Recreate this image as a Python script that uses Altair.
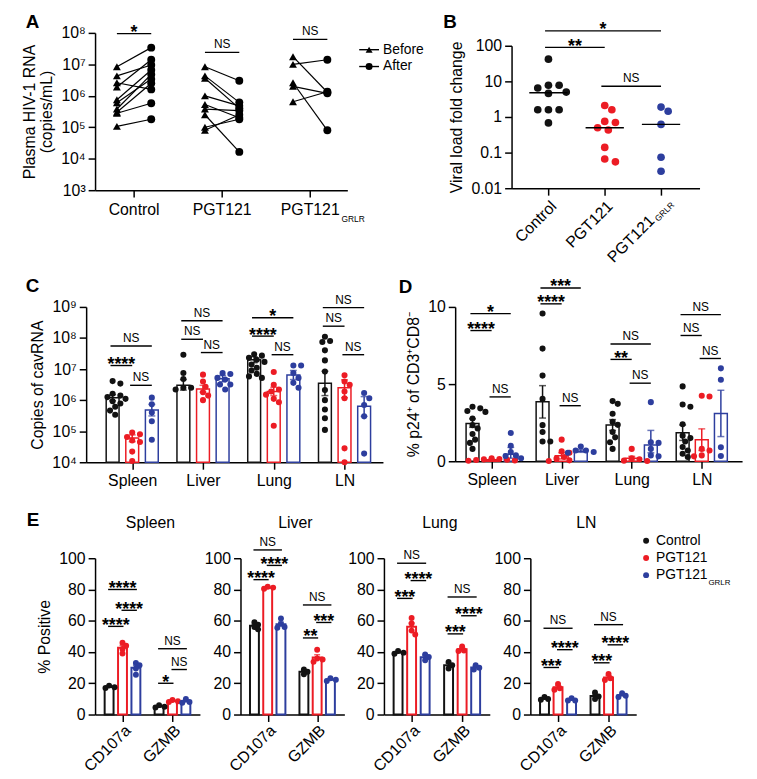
import math
import altair as alt
import pandas as pd

FONT = "Liberation Sans"
INK = "#121212"
RED = "#ec1c24"
BLUE = "#2d3e9e"

# ---------------- data ----------------
groups = ["Control", "PGT121", "PGT121GRLR"]
group_colors = [INK, RED, BLUE]
group_main = ["Control", "PGT121", "PGT121"]
group_sub = ["", "", "GRLR"]
tissues = ["Spleen", "Liver", "Lung", "LN"]
markers = ["CD107a", "GZMB"]

# Panel A: plasma HIV-1 RNA (copies/mL), before/after per animal
a_before = [
    [8.4e6, 4.3e6, 2.6e6, 1.9e6, 7.5e5, 6.0e5, 3.8e5, 3.0e5, 2.8e5, 1.07e5],
    [8.4e6, 4.3e6, 3.6e6, 1.0e6, 5.3e5, 3.8e5, 2.5e5, 1.0e5, 8.0e4],
    [1.75e7, 1.0e7, 2.6e6, 2.0e6, 6.5e5],
]
a_after = [
    [3.4e7, 9.5e6, 1.6e6, 1.4e7, 6.6e6, 3.4e6, 4.8e6, 2.5e6, 5.8e5, 1.8e5],
    [3.0e6, 6.2e5, 4.0e5, 4.8e5, 2.0e5, 3.4e5, 1.65e4, 1.8e5, 2.5e5],
    [1.3e6, 1.4e7, 8.0e4, 1.2e6, 1.35e6],
]
a_sig = [(0, 9.5e7, "*"), (1, 2.4e7, "NS"), (2, 6.2e7, "NS")]
a_legend = ["Before", "After"]

# Panel B: viral load fold change
b_fold = [
    [42, 7.8, 7.8, 6.5, 5.0, 4.6, 1.6, 1.6, 1.6, 0.68],
    [2.1, 1.6, 0.75, 0.7, 0.5, 0.43, 0.14, 0.066, 0.055],
    [1.9, 1.45, 0.62, 0.074, 0.03],
]
b_sig = [(0, 2, 261, "*"), (0, 1, 90, "**"), (1, 2, 7.3, "NS")]

# Panel C: copies of cavRNA
c_points = {
    "Spleen": [[4.1e6, 3.4e6, 1.6e6, 1.4e6, 1.25e6, 1.1e6, 9.2e5, 7.8e5, 6.1e5, 4.6e5, 3.4e5],
               [9e4, 8e4, 6.5e4, 5e4, 4.5e4, 2.2e4, 1.1e4],
               [1.2e6, 7.3e5, 4e5, 2.1e5, 5.3e4]],
    "Liver": [[2.9e7, 7.5e6, 4.8e6, 2.5e6, 2.5e6, 2.2e6],
              [6.6e6, 4e6, 2.7e6, 1.8e6, 1.4e6, 1.0e6],
              [7.4e6, 6.9e6, 5.2e6, 4.6e6, 3.2e6, 3.2e6, 2.2e6]],
    "Lung": [[3e7, 2.7e7, 2.3e7, 2e7, 1.7e7, 1.4e7, 1.1e7, 9e6, 7e6, 5.8e6, 5.2e6],
             [8e6, 3.1e6, 2.2e6, 1.9e6, 1.5e6, 1.1e6, 8.5e5, 1.5e5],
             [1.3e7, 1.3e7, 7.5e6, 5.2e6, 3.6e6, 2.5e6]],
    "LN": [[1.1e8, 8e7, 7.4e7, 4e7, 1.9e7, 8.3e6, 2.1e6, 1e6, 5e5, 2.6e5, 1.1e5],
           [6.3e6, 4e6, 3.1e6, 1.9e6, 1.15e6, 2.8e4, 1e4],
           [1.7e6, 1.15e6, 7e5, 3e5, 1.9e4]],
}
c_bar = {"Spleen": [1.2e6, 6.0e4, 4.8e5], "Liver": [3.0e6, 2.3e6, 4.9e6],
         "Lung": [2.0e7, 1.9e6, 6.4e6], "LN": [3.5e6, 2.5e6, 6.3e5]}
c_err = {"Spleen": [(0.95e6, 1.5e6), (4.6e4, 7.6e4), (3.1e5, 7.3e5)],
         "Liver": [(2.1e6, 4.6e6), (1.8e6, 3.0e6), (3.9e6, 6.2e6)],
         "Lung": [(1.6e7, 2.5e7), (1.4e6, 2.6e6), (4.6e6, 9.0e6)],
         "LN": [(1.4e6, 8.5e6), (1.2e6, 4.5e6), (3.0e5, 1.3e6)]}
c_sig = [(0, 0, 1, 1.3e7, "****"), (0, 0, 2, 5.5e7, "NS"), (0, 1, 2, 3e6, "NS"),
         (1, 0, 2, 3.6e8, "NS"), (1, 0, 1, 9.1e7, "NS"), (1, 1, 2, 3.4e7, "NS"),
         (2, 0, 2, 4.5e8, "*"), (2, 0, 1, 1.15e8, "****"), (2, 1, 2, 2.9e7, "NS"),
         (3, 0, 2, 9.5e8, "NS"), (3, 0, 1, 2.4e8, "NS"), (3, 1, 2, 2.9e7, "NS")]

# Panel D: % p24+ of CD3+CD8-
d_points = {
    "Spleen": [[3.53, 3.43, 3.26, 3.2, 2.77, 2.34, 2.13, 1.77, 1.4, 1.19, 0.8],
               [0.2, 0.15, 0.12, 0.1, 0.08, 0.05, 0.03],
               [1.83, 1.0, 0.6, 0.38, 0.34, 0.2]],
    "Liver": [[9.57, 7.3, 5.55, 4.04, 2.34, 1.9, 1.28, 1.28],
              [1.4, 0.64, 0.55, 0.28, 0.17, 0.06, 0.02],
              [0.96, 0.7, 0.7, 0.6, 0.55]],
    "Lung": [[3.9, 3.72, 3.08, 2.55, 2.36, 1.9, 1.55, 1.23, 0.8],
             [0.8, 0.2, 0.13, 0.04, 0.02],
             [3.83, 1.23, 1.19, 0.8, 0.38, 0.32]],
    "LN": [[4.85, 3.68, 3.53, 2.4, 1.66, 1.5, 1.28, 0.92, 0.7, 0.49, 0.28],
           [4.25, 4.2, 0.8, 0.7, 0.38, 0.32],
           [6.02, 5.28, 0.91, 0.34]],
}
d_bar = {"Spleen": [2.45, 0.1, 0.45], "Liver": [3.85, 0.35, 0.65],
         "Lung": [2.35, 0.2, 1.05], "LN": [1.85, 1.4, 3.1]}
d_err = {"Spleen": [(2.2, 2.75), (0.06, 0.14), (0.2, 0.9)],
         "Liver": [(2.8, 4.9), (0.15, 0.55), (0.58, 0.75)],
         "Lung": [(2.0, 2.7), (0.08, 0.32), (0.55, 2.0)],
         "LN": [(1.35, 2.35), (0.7, 2.1), (1.6, 4.6)]}
d_sig = [(0, 0, 1, 8.47, "****"), (0, 0, 2, 9.57, "*"), (0, 1, 2, 4.17, "NS"),
         (1, 0, 2, 11.23, "***"), (1, 0, 1, 10.2, "****"), (1, 1, 2, 3.6, "NS"),
         (2, 0, 2, 7.6, "NS"), (2, 0, 1, 6.6, "**"), (2, 1, 2, 5.06, "NS"),
         (3, 0, 2, 9.5, "NS"), (3, 0, 1, 8.15, "NS"), (3, 1, 2, 6.66, "NS")]

# Panel E: % positive, [marker][group] -> replicate values
e_points = {
    "Spleen": [[[18.5, 17.5, 17.0], [46, 44, 42, 39], [33, 31.5, 29.5, 25.5]],
               [[6, 5, 4.5], [9.3, 8.5, 8.0], [10, 8, 7.5]]],
    "Liver": [[[59, 57.5, 56, 54.5], [81.8, 81.2, 80.5], [61.5, 58, 56, 55.5]],
              [[28.8, 27.4, 25.8], [41.5, 35.8, 35.2, 33.7], [23.2, 22.2, 21.5]]],
    "Lung": [[[40.6, 39.6, 38.9], [61.7, 58.3, 53.7, 51.2], [38.5, 36.8, 34.7]],
             [[33.7, 31.6, 29.5], [43.6, 41, 40.6], [31.6, 29.9, 28.8]]],
    "LN": [[[11.2, 9.9, 9.5], [19.6, 16.8, 15.8], [10.5, 9, 9]],
           [[14.1, 11.6, 9.9], [25.9, 23.2, 22.1], [13.7, 12, 11.2]]],
}
e_sig = {
    "Spleen": [(0, 0, 2, 80, "****"), (0, 1, 2, 66.7, "****"), (0, 0, 1, 56.4, "****"),
               (1, 0, 2, 42.1, "NS"), (1, 1, 2, 28.8, "NS"), (1, 0, 1, 20, "*")],
    "Liver": [(0, 0, 2, 105.3, "NS"), (0, 1, 2, 95.4, "****"), (0, 0, 1, 86.3, "****"),
              (1, 0, 2, 70.1, "NS"), (1, 1, 2, 58.9, "***"), (1, 0, 1, 49, "**")],
    "Lung": [(0, 0, 2, 96.8, "NS"), (0, 1, 2, 85.7, "****"), (0, 0, 1, 74.3, "***"),
             (1, 0, 2, 75.2, "NS"), (1, 1, 2, 63.2, "****"), (1, 0, 1, 51.6, "***")],
    "LN": [(0, 0, 2, 55.2, "NS"), (0, 1, 2, 41.5, "****"), (0, 0, 1, 30.1, "***"),
           (1, 0, 2, 57.5, "NS"), (1, 1, 2, 44.6, "****"), (1, 0, 1, 33.1, "***")],
}

# ---------------- helpers ----------------
COLOR = alt.Scale(domain=groups, range=group_colors)
ONE = pd.DataFrame({"k": [0]})
SUP = ("'10' + ['\u2070','\u00b9','\u00b2','\u00b3','\u2074','\u2075','\u2076','\u2077','\u2078','\u2079']"
       "[round(log(datum.value)/LN10)]")


def names_expr(names, base):
    return "[" + ",".join("'" + n + "'" for n in names) + "][datum.value - %d]" % base


def note(text, x, y, size=16, weight="normal", align="left", baseline="alphabetic",
         angle=0, dx=0, dy=0):
    kw = dict(text=text, font=FONT, fontSize=size, fontWeight=weight, align=align,
              baseline=baseline, color="black")
    if angle:
        kw["angle"] = angle
    if dx:
        kw["dx"] = dx
    if dy:
        kw["dy"] = dy
    return alt.Chart(ONE).mark_text(**kw).encode(x=alt.value(x), y=alt.value(y))


def letter(text, x, y):
    return note(text, x, y, size=19, weight="bold", baseline="top")


def frame(l, r, t, b):
    return alt.Chart(ONE).mark_rect(fill="white", fillOpacity=0).encode(
        x=alt.value(l), x2=alt.value(r), y=alt.value(t), y2=alt.value(b))


def swarm(vals, ypx, diam, unit):
    steps = [0.0]
    for k in range(1, 16):
        steps += [k * diam * 0.45, -k * diam * 0.45]
    placed = []
    offs = [0.0] * len(vals)
    for i in sorted(range(len(vals)), key=lambda j: -vals[j]):
        y = ypx(vals[i])
        c = 0.0
        for c in steps:
            if all((c - px) ** 2 + (y - py) ** 2 >= diam ** 2 for px, py in placed):
                break
        placed.append((c, y))
        offs[i] = c / unit
    return offs


def sig_layers(rows, xs, ys):
    df = pd.DataFrame(rows, columns=["x1", "x2", "y", "label"])
    df["xm"] = (df["x1"] + df["x2"]) / 2
    base = alt.Chart(df)
    rule = base.mark_rule(color="black", strokeWidth=1.4).encode(
        x=alt.X("x1:Q", scale=xs), x2="x2:Q", y=alt.Y("y:Q", scale=ys))
    star = base.transform_filter("datum.label != 'NS'").mark_text(
        font=FONT, fontSize=18, fontWeight="bold", baseline="alphabetic", dy=4.5,
        color="black").encode(
        x=alt.X("xm:Q", scale=xs), y=alt.Y("y:Q", scale=ys), text="label:N")
    ns = base.transform_filter("datum.label == 'NS'").mark_text(
        font=FONT, fontSize=12, baseline="alphabetic", dy=-4, color="black").encode(
        x=alt.X("xm:Q", scale=xs), y=alt.Y("y:Q", scale=ys), text="label:N")
    return [rule, star, ns]


def rotated_labels(df, field, xs, y, dx=0, dy=0, size=16, align="right"):
    kw = dict(font=FONT, fontSize=size, angle=315, align=align, baseline="top", color="black")
    if dx:
        kw["dx"] = dx
    if dy:
        kw["dy"] = dy
    return alt.Chart(df).transform_filter("datum.pos >= 0").mark_text(**kw).encode(
        x=alt.X("pos:Q", scale=xs), y=alt.value(y), text=field + ":N")


# Layout (page px): rows share an origin y, first panels share an origin x (96).
ORIGIN_X = 96
ROW_Y = [29, 303, 557]
ROW_CUT = [8, 262, 495, 771]

# ---------------- panel A ----------------
A_W, A_H = 255, 159
A_X = alt.Scale(domain=[0.562, 3.427], nice=False, zero=False)
A_Y = alt.Scale(type="log", domain=[1e3, 1e8], nice=False)
A_B, A_A = -0.19, 0.2

rows = []
for gi, (bs, afs) in enumerate(zip(a_before, a_after)):
    for k, (b, a) in enumerate(zip(bs, afs)):
        pid = "%d-%d" % (gi, k)
        rows.append({"id": pid, "when": "Before", "v": b, "x": gi + 1 + A_B})
        rows.append({"id": pid, "when": "After", "v": a, "x": gi + 1 + A_A})
a_df = pd.DataFrame(rows)

a_lines = alt.Chart(a_df).mark_line(color="black", strokeWidth=1.2).encode(
    x=alt.X("x:Q", scale=A_X, axis=alt.Axis(values=[1, 2, 3], labelExpr=names_expr(group_main, 1),
                                          title=None, labelPadding=5)),
    y=alt.Y("v:Q", scale=A_Y, axis=alt.Axis(values=[10 ** k for k in range(3, 9)], labelExpr=SUP,
                                          title=["Plasma HIV-1 RNA", "(copies/mL)"], titlePadding=6)),
    detail="id:N", order="x:Q")
a_tri = alt.Chart(a_df).transform_filter("datum.when == 'Before'").mark_point(
    shape="triangle-up", filled=True, size=64, color="black", opacity=1).encode(
    x=alt.X("x:Q", scale=A_X), y=alt.Y("v:Q", scale=A_Y))
a_cir = alt.Chart(a_df).transform_filter("datum.when == 'After'").mark_point(
    shape="circle", filled=True, size=64, color="black", opacity=1).encode(
    x=alt.X("x:Q", scale=A_X), y=alt.Y("v:Q", scale=A_Y))
a_sig_rows = [(gi + 1 + A_B, gi + 1 + A_A, y, lab) for gi, y, lab in a_sig]
a_sub_df = pd.DataFrame({"x": [i + 1 for i, s in enumerate(group_sub) if s],
                         "t": [s for s in group_sub if s]})
a_sub = alt.Chart(a_sub_df).mark_text(font=FONT, fontSize=8.5, align="left", baseline="alphabetic",
                                      dx=32, color="black").encode(
    x=alt.X("x:Q", scale=A_X), y=alt.value(A_H + 32), text="t:N")
a_leg = []
for i, (lab, shp) in enumerate(zip(a_legend, ["triangle-up", "circle"])):
    yy = 17 + 17 * i
    a_leg.append(alt.Chart(ONE).mark_rule(color="black", strokeWidth=1.4).encode(
        x=alt.value(267), x2=alt.value(287), y=alt.value(yy)))
    a_leg.append(alt.Chart(ONE).mark_point(shape=shp, filled=True, size=50, color="black",
                                          opacity=1).encode(x=alt.value(277), y=alt.value(yy)))
    a_leg.append(note(lab, 291, yy, size=14, baseline="middle"))

chartA = alt.layer(frame(8 - ORIGIN_X, 432 - ORIGIN_X, ROW_CUT[0] - ROW_Y[0], ROW_CUT[1] - ROW_Y[0]),
                   a_lines, a_tri, a_cir,
                   *sig_layers(a_sig_rows, A_X, A_Y), a_sub, *a_leg,
                   letter("A", 26 - ORIGIN_X, 9.5 - ROW_Y[0])).properties(width=A_W, height=A_H)

# ---------------- panel B ----------------
B_LEFT, B_TOP, B_BOT = 517, 42, 186
B_W = 190
B_GH = B_BOT - ROW_Y[0]
B_X = alt.Scale(domain=[0.345, 3.684], nice=False, zero=False)
B_Y = alt.Scale(type="log", domain=[0.01, 100], nice=False, range=[B_GH, B_TOP - ROW_Y[0]])
b_unit = B_W / (3.684 - 0.345)
b_ppd = (B_BOT - B_TOP) / 4.0
rows = []
for gi, vals in enumerate(b_fold):
    sw = swarm(vals, lambda v: b_ppd * (math.log10(v) + 2), 8.0, b_unit)
    for v, o in zip(vals, sw):
        rows.append({"grp": groups[gi], "g": gi + 1, "v": v, "x": gi + 1 + o})
b_df = pd.DataFrame(rows)
b_pts = alt.Chart(b_df).mark_circle(size=60, opacity=1).encode(
    x=alt.X("x:Q", scale=B_X, axis=alt.Axis(values=[1, 2, 3], labels=False, title=None)),
    y=alt.Y("v:Q", scale=B_Y, axis=alt.Axis(values=[0.01, 0.1, 1, 10, 100], format="~g",
                                          title="Viral load fold change", titlePadding=6)),
    color=alt.Color("grp:N", scale=COLOR, legend=None))
b_med = alt.Chart(b_df).transform_aggregate(med="median(v)", groupby=["g"]).transform_calculate(
    x1="datum.g - 0.34", x2="datum.g + 0.34").mark_rule(color="black", strokeWidth=1.5).encode(
    x=alt.X("x1:Q", scale=B_X), x2="x2:Q", y=alt.Y("med:Q", scale=B_Y))
b_sig_rows = [(a + 1 - 0.06, b + 1, y, lab) for a, b, y, lab in b_sig]
b_plain = pd.DataFrame({"pos": [i + 1 for i, s in enumerate(group_sub) if not s],
                        "t": [group_main[i] for i, s in enumerate(group_sub) if not s]})
b_subbed = pd.DataFrame({"pos": [i + 1 for i, s in enumerate(group_sub) if s],
                         "t": [group_main[i] for i, s in enumerate(group_sub) if s],
                         "s": [s for s in group_sub if s]})
b_lab1 = rotated_labels(b_plain, "t", B_X, B_GH + 10)
b_lab2 = rotated_labels(b_subbed, "t", B_X, B_GH + 10, dx=-21)
b_lab3 = rotated_labels(b_subbed, "s", B_X, B_GH + 10, dx=-19, dy=8, size=8.5, align="left")

chartB = alt.layer(frame(432 - B_LEFT, 757 - B_LEFT, ROW_CUT[0] - ROW_Y[0], ROW_CUT[1] - ROW_Y[0]),
                   b_pts, b_med, *sig_layers(b_sig_rows, B_X, B_Y),
                   b_lab1, b_lab2, b_lab3,
                   letter("B", 448 - B_LEFT, 9.5 - ROW_Y[0])).properties(width=B_W, height=B_GH)


# ---------------- panels C and D ----------------
def organ_panel(points, bars, errs, sig, plot_left, plot_right, origin_x, H, xdom, ys, yaxis,
                offs, ypx, base_val, cell, let, letter_x, letter_y):
    W = plot_right - origin_x
    xs = alt.Scale(domain=xdom, nice=False, zero=False,
                   range=[plot_left - origin_x, plot_right - origin_x])
    unit = (plot_right - plot_left) / (xdom[1] - xdom[0])
    prow, brow = [], []
    for t, tissue in enumerate(tissues):
        for gi, g in enumerate(groups):
            vals = points[tissue][gi]
            sw = swarm(vals, ypx, 6.0, unit)
            for v, o in zip(vals, sw):
                prow.append({"grp": g, "v": v, "x": t + offs[gi] + o})
            lo, hi = errs[tissue][gi]
            brow.append({"grp": g, "v": bars[tissue][gi], "lo": lo, "hi": hi, "x": t + offs[gi]})
    pdf, bdf = pd.DataFrame(prow), pd.DataFrame(brow)
    xaxis = alt.Axis(values=[0, 1, 2, 3], labelExpr=names_expr(tissues, 0), title=None)
    bar = alt.Chart(bdf).mark_bar(size=13, fill="white", strokeWidth=1.5).encode(
        x=alt.X("x:Q", scale=xs, axis=xaxis), y=alt.Y("v:Q", scale=ys, axis=yaxis),
        y2=alt.datum(base_val), stroke=alt.Stroke("grp:N", scale=COLOR, legend=None))
    err = alt.Chart(bdf).mark_rule(strokeWidth=1.5).encode(
        x=alt.X("x:Q", scale=xs), y=alt.Y("lo:Q", scale=ys), y2="hi:Q",
        color=alt.Color("grp:N", scale=COLOR, legend=None))
    cap_hi = alt.Chart(bdf).mark_tick(orient="horizontal", size=7, thickness=1.5).encode(
        x=alt.X("x:Q", scale=xs), y=alt.Y("hi:Q", scale=ys),
        color=alt.Color("grp:N", scale=COLOR, legend=None))
    cap_lo = alt.Chart(bdf).mark_tick(orient="horizontal", size=7, thickness=1.5).encode(
        x=alt.X("x:Q", scale=xs), y=alt.Y("lo:Q", scale=ys),
        color=alt.Color("grp:N", scale=COLOR, legend=None))
    pts = alt.Chart(pdf).mark_circle(size=38, opacity=1).encode(
        x=alt.X("x:Q", scale=xs), y=alt.Y("v:Q", scale=ys),
        color=alt.Color("grp:N", scale=COLOR, legend=None))
    srows = [(t + offs[a] - 0.03, t + offs[b], y, lab) for t, a, b, y, lab in sig]
    top = ROW_Y[1]
    return alt.layer(frame(cell[0] - origin_x, cell[1] - origin_x, ROW_CUT[1] - top, ROW_CUT[2] - top),
                     bar, err, cap_hi, cap_lo, pts, *sig_layers(srows, xs, ys),
                     letter(let, letter_x - origin_x, letter_y - top)
                     ).properties(width=W, height=H)


C_H = 157
C_Y = alt.Scale(type="log", domain=[1e4, 1e9], nice=False)
chartC = organ_panel(
    c_points, c_bar, c_err, c_sig, 87, 387, ORIGIN_X, C_H, [-0.581, 3.473], C_Y,
    alt.Axis(values=[10 ** k for k in range(4, 10)], labelExpr=SUP, title="Copies of cavRNA",
             titlePadding=6, offset=ORIGIN_X - 87),
    [-0.277, 0, 0.277], lambda v: C_H * (math.log10(v) - 4) / 5, 1e4,
    (8, 400), "C", 26, 272.5)

D_H = 156
D_Y = alt.Scale(domain=[0, 10], nice=False)
chartD = organ_panel(
    d_points, d_bar, d_err, d_sig, 460, 750, 460, D_H, [-0.45, 3.505], D_Y,
    alt.Axis(values=[0, 5, 10], title="% p24\u207a of CD3\u207aCD8\u207b", titlePadding=6,
             tickCount=10),
    [-0.273, 0, 0.273], lambda v: D_H * v / 10, 0,
    (400, 757), "D", 403, 273.5)

# ---------------- panel E ----------------
E_OFF = [-0.268, 0, 0.268]
E_H = 158
E_LEFT = [96, 243, 388, 536]
E_WID = [106, 105, 107, 107]
E_CELL = [(8, 203), (203, 350), (350, 497), (497, 757)]
e_lab_df = pd.DataFrame({"pos": list(range(len(markers))), "t": markers})


def e_panel(ti):
    tissue = tissues[ti]
    W = E_WID[ti]
    xs = alt.Scale(domain=[-0.45, 1.45], nice=False, zero=False)
    ys = alt.Scale(domain=[0, 100], nice=False)
    unit = W / 1.9
    rows = []
    for m in range(2):
        for gi, g in enumerate(groups):
            vals = e_points[tissue][m][gi]
            sw = swarm(vals, lambda v: E_H * v / 100, 4.5, unit)
            for v, o in zip(vals, sw):
                rows.append({"grp": g, "v": v, "bx": m + E_OFF[gi], "px": m + E_OFF[gi] + o})
    df = pd.DataFrame(rows)
    xaxis = alt.Axis(values=[0, 1], labels=False, title=None)
    if ti == 0:
        yaxis = alt.Axis(values=list(range(0, 101, 20)), tickCount=20, title="% Positive",
                         titlePadding=6)
    else:
        yaxis = alt.Axis(values=list(range(0, 101, 20)), tickCount=20, title=None)
    agg = alt.Chart(df).transform_aggregate(
        mean="mean(v)", sd="stdev(v)", n="count()", groupby=["bx", "grp"]).transform_calculate(
        lo="datum.mean - datum.sd / sqrt(datum.n)", hi="datum.mean + datum.sd / sqrt(datum.n)")
    bars = agg.mark_bar(size=9, fill="white", strokeWidth=2).encode(
        x=alt.X("bx:Q", scale=xs, axis=xaxis), y=alt.Y("mean:Q", scale=ys, axis=yaxis),
        y2=alt.datum(0), stroke=alt.Stroke("grp:N", scale=COLOR, legend=None))
    err = agg.mark_rule(strokeWidth=1.5).encode(
        x=alt.X("bx:Q", scale=xs), y=alt.Y("lo:Q", scale=ys), y2="hi:Q",
        color=alt.Color("grp:N", scale=COLOR, legend=None))
    cap = agg.mark_tick(orient="horizontal", size=6, thickness=1.5).encode(
        x=alt.X("bx:Q", scale=xs), y=alt.Y("hi:Q", scale=ys),
        color=alt.Color("grp:N", scale=COLOR, legend=None))
    pts = alt.Chart(df).mark_circle(size=36, opacity=1).encode(
        x=alt.X("px:Q", scale=xs), y=alt.Y("v:Q", scale=ys),
        color=alt.Color("grp:N", scale=COLOR, legend=None))
    xlab = rotated_labels(e_lab_df, "t", xs, E_H + 8)
    srows = [(m + E_OFF[a] - 0.02, m + E_OFF[b] + 0.02, y, lab) for m, a, b, y, lab in e_sig[tissue]]
    cl, cr = E_CELL[ti]
    left = E_LEFT[ti]
    top = ROW_Y[2]
    layers = [frame(cl - left, cr - left, ROW_CUT[2] - top, ROW_CUT[3] - top), bars, err, cap, pts,
              *sig_layers(srows, xs, ys), xlab, note(tissue, W / 2 + 3, -31, align="center")]
    if ti == 0:
        layers.append(letter("E", 27 - left, 509.5 - top))
    if ti == 3:
        for i, g in enumerate(groups):
            yy = -17.7 + 17.4 * i
            layers.append(alt.Chart(pd.DataFrame({"grp": [g]})).mark_circle(size=36, opacity=1).encode(
                x=alt.value(117), y=alt.value(yy), color=alt.Color("grp:N", scale=COLOR, legend=None)))
            layers.append(note(group_main[i], 127, yy, size=14, baseline="middle"))
            if group_sub[i]:
                layers.append(note(group_sub[i], 180, yy + 9.5, size=8))
    return alt.layer(*layers).properties(width=W, height=E_H)


echarts = [e_panel(i) for i in range(4)]

row1 = alt.concat(chartA, chartB, columns=2, align="none", spacing=0)
row2 = alt.concat(chartC, chartD, columns=2, align="none", spacing=0)
row3 = alt.concat(*echarts, columns=4, align="none", spacing=0)

chart = alt.concat(row1, row2, row3, columns=1, align="none", spacing=0).properties(
    padding=0).configure_view(strokeWidth=0).configure_axis(
    domainColor="black", domainWidth=1.5, tickColor="black", tickWidth=1.5, tickSize=7,
    labelFont=FONT, labelFontSize=16, labelColor="black", labelPadding=3,
    titleFont=FONT, titleFontSize=16, titleFontWeight="normal", titleColor="black",
    grid=False, labelFlush=False, labelOverlap=False)

chart.save("out.html", embed_options={"renderer": "svg", "actions": False})
